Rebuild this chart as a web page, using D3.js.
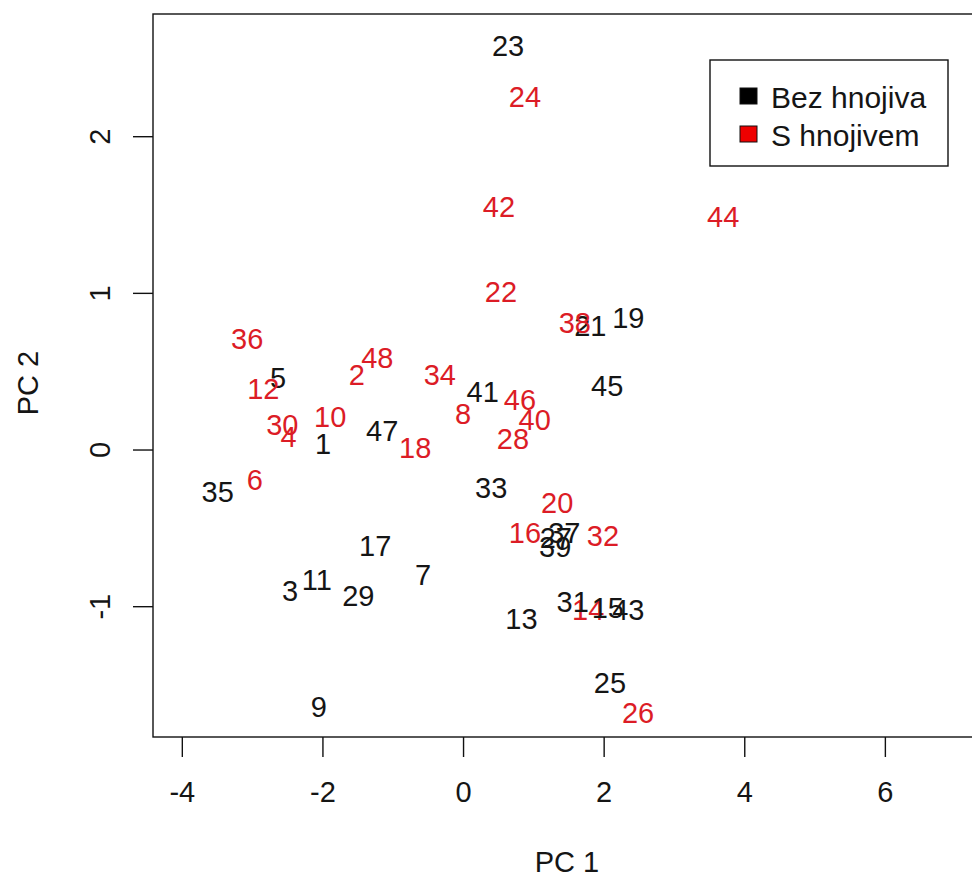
<!DOCTYPE html>
<html>
<head>
<meta charset="utf-8">
<script src="https://cdn.jsdelivr.net/npm/d3@7"></script>
<style>
  html, body { margin: 0; padding: 0; background: #fff; }
  svg text { font-family: "Liberation Sans", Arial, sans-serif; }
</style>
</head>
<body>
<svg id="chart" width="972" height="879"></svg>
<script>
// Sample labels (plot numbers) with their PCA scores
const ids = d3.range(1, 49);
const pc1 = [
  -1.99, -1.51, -2.46, -2.48, -2.63, -2.96, -0.57, 0.00, -2.05, -1.89,
  -2.08, -2.84, 0.83, 1.78, 2.06, 0.88, -1.25, -0.68, 2.35, 1.34,
  1.81, 0.54, 0.64, 0.88, 2.09, 2.49, 1.32, 0.71, -1.49, -2.57,
  1.56, 1.99, 0.40, -0.33, -3.49, -3.07, 1.44, 1.59, 1.31, 1.02,
  0.28, 0.51, 2.35, 3.70, 2.05, 0.81, -1.15, -1.22
];
const pc2 = [
  0.04, 0.48, -0.90, 0.08, 0.46, -0.19, -0.80, 0.23, -1.64, 0.21,
  -0.83, 0.39, -1.08, -1.02, -1.01, -0.53, -0.61, 0.01, 0.84, -0.34,
  0.79, 1.01, 2.58, 2.25, -1.49, -1.68, -0.56, 0.07, -0.93, 0.16,
  -0.97, -0.55, -0.24, 0.48, -0.27, 0.71, -0.53, 0.81, -0.62, 0.19,
  0.37, 1.55, -1.02, 1.49, 0.41, 0.32, 0.12, 0.59
];
// Odd plots: no fertiliser, even plots: fertilised
const groups = ["Bez hnojiva", "S hnojivem"];
const groupColors = ["#151515", "#dc1c26"];
const legendFill = ["#000000", "#ee0000"];
const xTicks = [-4, -2, 0, 2, 4, 6];
const yTicks = [-1, 0, 1, 2];
const xLimits = [-4.41, 7.41];
const yLimits = [-1.835, 2.78];

const svg = d3.select("#chart");
const plotLeft = 153, plotRight = 984, plotTop = 14, plotBottom = 737;
const fontSize = 29;

const x = d3.scaleLinear().domain(xLimits).range([plotLeft, plotRight]);
const y = d3.scaleLinear().domain(yLimits).range([plotBottom, plotTop]);

const color = i => groupColors[(ids[i] % 2 === 1) ? 0 : 1];

// Plot box
svg.append("rect")
  .attr("x", plotLeft).attr("y", plotTop)
  .attr("width", plotRight - plotLeft).attr("height", plotBottom - plotTop)
  .attr("fill", "none").attr("stroke", "#111").attr("stroke-width", 1.4);

// X axis
const xAxis = svg.append("g").attr("transform", `translate(0,${plotBottom})`)
  .call(d3.axisBottom(x).tickValues(xTicks).tickSize(20).tickPadding(24).tickFormat(d => String(d)));
xAxis.select(".domain").remove();
xAxis.selectAll("line").attr("stroke", "#111").attr("stroke-width", 1.4);
xAxis.selectAll("text").attr("font-size", fontSize).attr("fill", "#151515")
  .attr("font-family", "Liberation Sans, Arial, sans-serif");

// Y axis with labels parallel to the axis
const yAxis = svg.append("g").attr("transform", `translate(${plotLeft},0)`)
  .call(d3.axisLeft(y).tickValues(yTicks).tickSize(20).tickFormat(d => String(d)));
yAxis.select(".domain").remove();
yAxis.selectAll("line").attr("stroke", "#111").attr("stroke-width", 1.4);
yAxis.selectAll("text")
  .attr("font-size", fontSize).attr("fill", "#151515")
  .attr("font-family", "Liberation Sans, Arial, sans-serif")
  .attr("x", null)
  .attr("text-anchor", "middle")
  .attr("transform", "translate(-53,0) rotate(-90)")
  .attr("dy", "0.36em");

// Axis titles
svg.append("text").attr("x", 567).attr("y", 862).attr("dy", "0.36em")
  .attr("text-anchor", "middle").attr("font-size", fontSize).attr("fill", "#151515").text("PC 1");
svg.append("text").attr("transform", "translate(28,383) rotate(-90)").attr("dy", "0.36em")
  .attr("text-anchor", "middle").attr("font-size", fontSize).attr("fill", "#151515").text("PC 2");

// Sample labels
svg.append("g").selectAll("text")
  .data(ids.map((id, i) => i))
  .join("text")
  .attr("x", i => x(pc1[i]))
  .attr("y", i => y(pc2[i]))
  .attr("dy", "0.36em")
  .attr("text-anchor", "middle")
  .attr("font-size", fontSize)
  .attr("fill", i => color(i))
  .text(i => ids[i]);

// Legend
const lg = svg.append("g").attr("transform", "translate(710,60)");
lg.append("rect").attr("width", 238).attr("height", 106)
  .attr("fill", "#fff").attr("stroke", "#111").attr("stroke-width", 1.4);
groups.forEach((g, k) => {
  lg.append("rect").attr("x", 30).attr("y", 28 + k * 38).attr("width", 17).attr("height", 16)
    .attr("fill", legendFill[k]).attr("stroke", "#111").attr("stroke-width", 1);
  lg.append("text").attr("x", 61).attr("y", 37 + k * 38).attr("dy", "0.36em")
    .attr("font-size", 30).attr("fill", "#151515").text(g);
});
</script>
</body>
</html>
